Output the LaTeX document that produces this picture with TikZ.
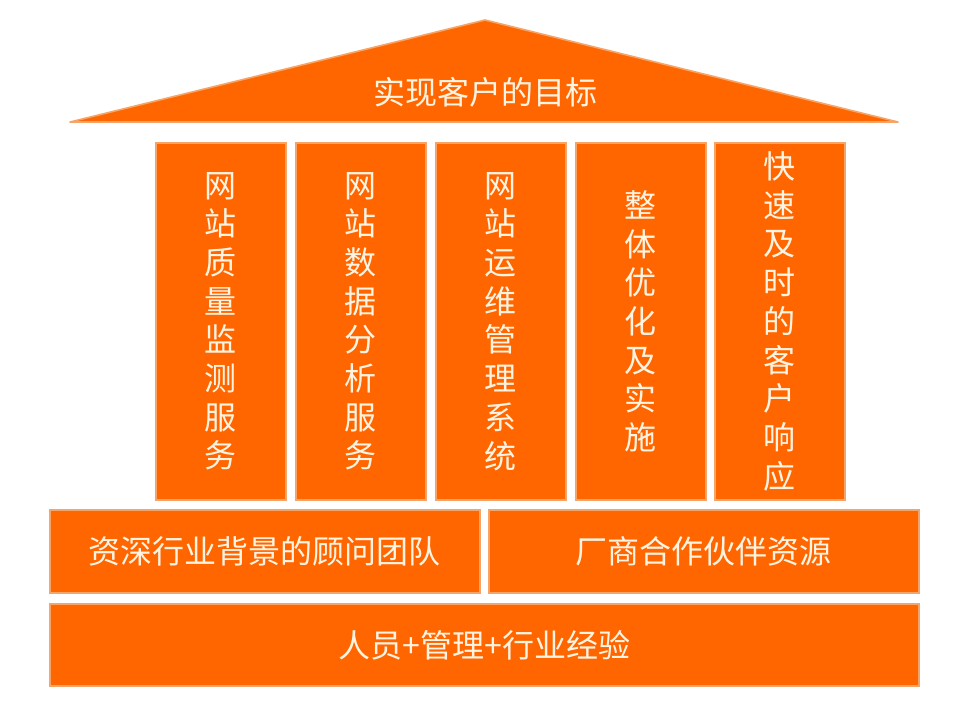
\documentclass[tikz,border=0pt]{standalone}
\usepackage{fontspec}
\usepackage{tikz}
\newfontfamily\cjk{Noto Sans CJK SC}
\definecolor{roofor}{HTML}{FF6600}
\definecolor{edgeor}{HTML}{F7A468}
\definecolor{cream}{HTML}{FFF4E2}
\tikzset{
	block/.style={fill=roofor,draw=edgeor,line width=1.6pt,inner sep=0pt,anchor=north west,
		text=cream,font=\cjk\fontsize{32}{38.7}\selectfont,align=center},
	pillar/.style={block,minimum width=130pt,minimum height=357pt},
}
\begin{document}
\begin{tikzpicture}[x=1pt,y=-1pt]
	\useasboundingbox (0,0) rectangle (960,720);
	% roof
	\coordinate (roofl) at (70,122);
	\coordinate (rooftop) at (485,20);
	\coordinate (roofr) at (898,122);
	\filldraw[fill=roofor,draw=edgeor,line width=1.6pt,line join=round] (roofl) -- (rooftop) -- (roofr) -- cycle;
	\node[text=cream,font=\cjk\fontsize{32}{38}\selectfont] (goal) at (485,92) {实现客户的目标};
	% pillars
	\foreach \i/\x/\t in {1/155/{网\\站\\质\\量\\监\\测\\服\\务},
			2/295/{网\\站\\数\\据\\分\\析\\服\\务},
			3/435/{网\\站\\运\\维\\管\\理\\系\\统},
			4/575/{整\\体\\优\\化\\及\\实\\施},
			5/714/{快\\速\\及\\时\\的\\客\\户\\响\\应}}
	{
		\node[pillar] (col\i) at (\x,142) {\t};
	}
	% base
	\node[block,minimum width=430pt,minimum height=83pt] (team) at (49,509) {资深行业背景的顾问团队};
	\node[block,minimum width=430pt,minimum height=83pt] (partner) at (488,509) {厂商合作伙伴资源};
	\node[block,minimum width=869pt,minimum height=82pt] (ground) at (49,603) {人员+管理+行业经验};
\end{tikzpicture}
\end{document}
